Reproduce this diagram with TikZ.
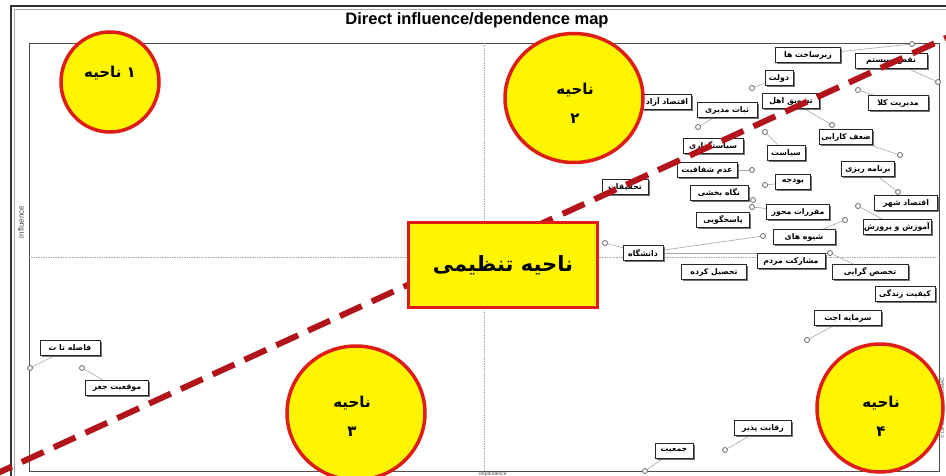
\documentclass[tikz,border=0pt]{standalone}
\usepackage{fontspec}
\setmainfont{Liberation Sans}
\newfontfamily\arfont[Script=Arabic]{DejaVu Sans}
\TeXXeTstate=1
\usetikzlibrary{shapes.geometric,shadows,backgrounds}
\newcommand\fa[1]{{\arfont\bfseries\beginR #1\endR}}
\definecolor{regfill}{RGB}{255,245,0}
\definecolor{regline}{RGB}{222,30,20}
\definecolor{dashred}{RGB}{178,20,28}
\tikzset{
  lbl/.style={draw=black!85, fill=white, line width=0.8pt, inner sep=1pt,
    minimum height=15pt, font=\fontsize{7.8}{8.5}\selectfont,
    drop shadow={shadow xshift=1.6pt, shadow yshift=-1.6pt, fill=black!55, opacity=1}},
  pt/.style={circle, draw=gray!80!black, fill=white, line width=0.8pt, minimum size=5pt, inner sep=0pt},
  conn/.style={draw=gray!70, line width=0.6pt},
  region/.style={ellipse, fill=regfill, draw=regline, line width=3.5pt, inner sep=0pt},
  regtxt/.style={font=\fontsize{15}{17}\selectfont, align=center},
}
\begin{document}
\begin{tikzpicture}[x=1pt,y=-1pt]
\useasboundingbox (0,0) rectangle (946,476);
\begin{scope}[on background layer]
\fill[white] (0,0) rectangle (946,476);
% frames
\draw[black!80, line width=1.6pt] (11,490) -- (11,6) -- (960,6);
\draw[gray!70, line width=0.6pt] (14.5,490) -- (14.5,9.5) -- (960,9.5);
\draw[gray!60!black, line width=0.8pt] (29,43) rectangle (939,471.5);
\draw[gray!70, densely dotted, line width=0.7pt] (484,43) -- (484,471);
\draw[gray!70, densely dotted, line width=0.7pt] (29,257) -- (939,257);
\end{scope}
% title and axes
\node[font=\bfseries\fontsize{16.5}{18}\selectfont] (title) at (477,20) {Direct influence/dependence map};
\node[rotate=90, font=\fontsize{8}{9}\selectfont, text=black!70] (infl) at (21,222) {influence};
\node[font=\fontsize{5}{5}\selectfont, text=black!70, inner sep=0pt] (dep) at (493,474.3) {dependence};
\node[rotate=90, font=\fontsize{5}{5}\selectfont, text=black!70, inner sep=0pt] (copy) at (942.5,408) {\copyright{} LIPSOR-EPITA-MICMAC};
% points
\node[pt] (pzir) at (912,44) {};
\node[pt] (pnazm) at (938,82) {};
\node[pt] (pdolat) at (752,88) {};
\node[pt] (psobat) at (698,127) {};
\node[pt] (ptashv) at (832,125) {};
\node[pt] (pkalan) at (858,90) {};
\node[pt] (pzaf) at (900,155) {};
\node[pt] (psiasat) at (765,132) {};
\node[pt] (padam) at (752,170) {};
\node[pt] (pboodje) at (765,185) {};
\node[pt] (pnegah) at (753,200) {};
\node[pt] (pbarname) at (898,192) {};
\node[pt] (pmoghar) at (752,207) {};
\node[pt] (pamoozesh) at (858,206) {};
\node[pt] (pshive) at (845,220) {};
\node[pt] (pdanesh) at (605,243) {};
\node[pt] (pdanesh2) at (763,236) {};
\node[pt] (ptakh) at (830,253) {};
\node[pt] (psarm) at (807,340) {};
\node[pt] (pregh) at (725,450) {};
\node[pt] (pjam) at (645,471) {};
\node[pt] (pfas) at (30,368) {};
\node[pt] (pmogh) at (82,368) {};
% labels
\node[lbl, minimum width=65pt] (zir) at (808,55) {\fa{زیرساخت ها}};
\node[lbl, minimum width=72pt] (nazm) at (891,61) {\fa{نقص سیستم}};
\node[lbl, minimum width=28pt] (dolat) at (779,78) {\fa{دولت}};
\node[lbl, minimum width=49pt] (eazad) at (667,102) {\fa{اقتصاد آزاد}};
\node[lbl, minimum width=60pt] (sobat) at (727,110) {\fa{ثبات مدیری}};
\node[lbl, minimum width=57pt] (tashv) at (791,101) {\fa{تشویق اهل}};
\node[lbl, minimum width=60pt] (kalan) at (898,103) {\fa{مدیریت کلا}};
\node[lbl, minimum width=53pt] (zaf) at (846,137) {\fa{ضعف کارایی}};
\node[lbl, minimum width=60pt] (sgozari) at (713,146) {\fa{سیاستگذاری}};
\node[lbl, minimum width=38pt] (siasat) at (786,153) {\fa{سیاست}};
\node[lbl, minimum width=60pt] (adam) at (707,170) {\fa{عدم شفافیت}};
\node[lbl, minimum width=35pt] (boodje) at (793,182) {\fa{بودجه}};
\node[lbl, minimum width=46pt] (tahgh) at (625,187) {\fa{تحقیقات}};
\node[lbl, minimum width=58pt] (negah) at (719,193) {\fa{نگاه بخشی}};
\node[lbl, minimum width=53pt] (barname) at (868,169) {\fa{برنامه ریزی}};
\node[lbl, minimum width=63pt] (eshahr) at (906,203) {\fa{اقتصاد شهر}};
\node[lbl, minimum width=63pt] (moghar) at (798,212) {\fa{مقررات محور}};
\node[lbl, minimum width=53pt] (pasokh) at (723,220) {\fa{پاسخگویی}};
\node[lbl, minimum width=63pt] (amoozesh) at (897,227) {\fa{آموزش و پرورش}};
\node[lbl, minimum width=62pt] (shive) at (804,237) {\fa{شیوه های}};
\node[lbl, minimum width=40pt] (danesh) at (643,253) {\fa{دانشگاه}};
\node[lbl, minimum width=68pt] (mosh) at (791,261) {\fa{مشارکت مردم}};
\node[lbl, minimum width=65pt] (tahsil) at (714,272) {\fa{تحصیل کرده}};
\node[lbl, minimum width=76pt] (takh) at (870,272) {\fa{تخصص گرایی}};
\node[lbl, minimum width=60pt] (keyf) at (905,294) {\fa{کیفیت زندگی}};
\node[lbl, minimum width=67pt] (sarm) at (848,318) {\fa{سرمایه اجت}};
\node[lbl, minimum width=57pt] (regh) at (763,428) {\fa{رقابت پذیر}};
\node[lbl, minimum width=38pt] (jam) at (674,451) {\fa{جمعیت}};
\node[lbl, minimum width=60pt] (fas) at (70,348) {\fa{فاصله تا ت}};
\node[lbl, minimum width=63pt] (mogh) at (117,388) {\fa{موقعیت جغر}};
% connectors (behind points and labels)
\begin{scope}[on background layer]
\draw[conn] (pzir) -- (zir);
\draw[conn] (pnazm) -- (nazm);
\draw[conn] (pdolat) -- (dolat);
\draw[conn] (psobat) -- (sobat);
\draw[conn] (ptashv) -- (tashv);
\draw[conn] (pkalan) -- (kalan);
\draw[conn] (pzaf) -- (zaf);
\draw[conn] (psiasat) -- (siasat);
\draw[conn] (padam) -- (adam);
\draw[conn] (pboodje) -- (boodje);
\draw[conn] (pnegah) -- (negah);
\draw[conn] (pbarname) -- (barname);
\draw[conn] (pmoghar) -- (moghar);
\draw[conn] (pamoozesh) -- (amoozesh);
\draw[conn] (pshive) -- (shive);
\draw[conn] (pdanesh) -- (danesh);
\draw[conn] (pdanesh2) -- (danesh);
\draw[conn] (ptakh) -- (danesh);
\draw[conn] (ptakh) -- (takh);
\draw[conn] (psarm) -- (sarm);
\draw[conn] (pregh) -- (regh);
\draw[conn] (pjam) -- (jam);
\draw[conn] (pfas) -- (fas);
\draw[conn] (pmogh) -- (mogh);
\end{scope}
% diagonal
\draw[dashred, line width=6pt, dash pattern=on 24pt off 11pt] (-10,476.6) -- (960,31.6);
% regions
\node[region, minimum width=98pt, minimum height=100pt] (r1) at (110,82) {};
\node[regtxt] (t1) at (110,73) {\fa{۱ ناحیه}};
\node[region, minimum width=138pt, minimum height=129pt] (r2) at (574,98) {};
\node[regtxt] (t2) at (575,103) {\fa{ناحیه}\\[12pt]\fa{۲}};
\node[region, minimum width=138pt, minimum height=134pt] (r3) at (356,413) {};
\node[regtxt] (t3) at (352,416) {\fa{ناحیه}\\[12pt]\fa{۳}};
\node[region, minimum width=126pt, minimum height=128pt] (r4) at (880,408) {};
\node[regtxt] (t4) at (881,416) {\fa{ناحیه}\\[12pt]\fa{۴}};
\node[draw=regline, fill=regfill, line width=3pt, minimum width=189pt, minimum height=84pt,
  font=\fontsize{21}{24}\selectfont] (tanzim) at (503,265) {\fa{ناحیه تنظیمی}};
\end{tikzpicture}
\end{document}
